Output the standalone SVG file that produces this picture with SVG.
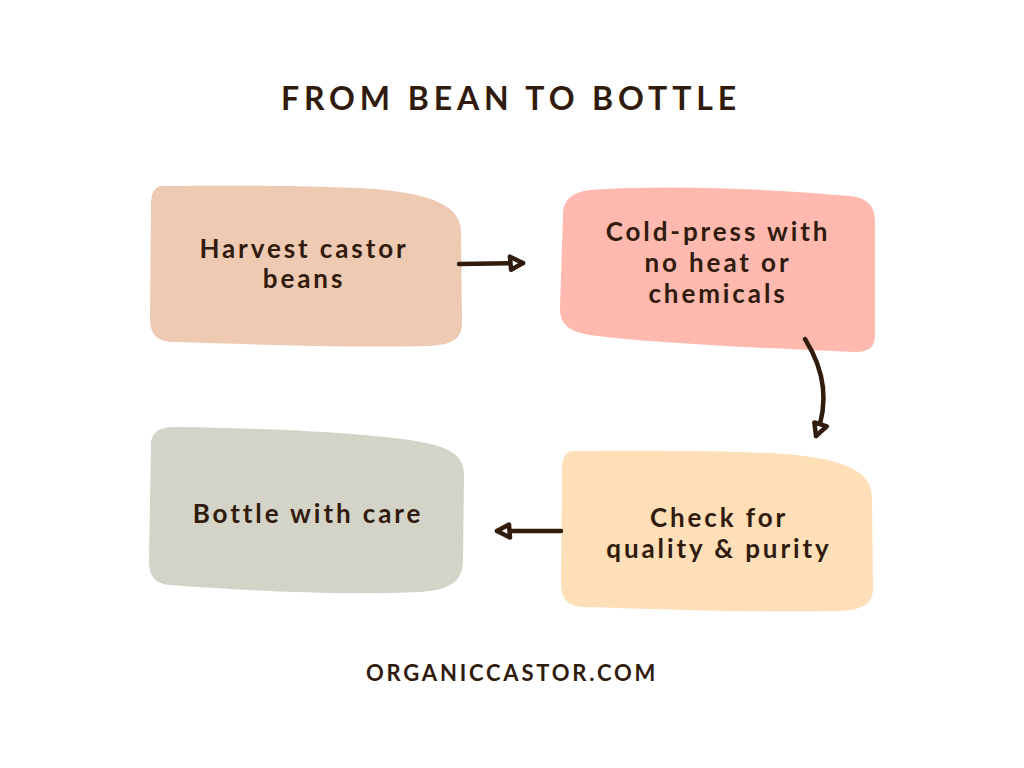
<svg xmlns="http://www.w3.org/2000/svg" width="1024" height="768" viewBox="0 0 1024 768">
<defs>
<style>
.t{font-family:Lato,"Liberation Sans",sans-serif;font-weight:700;fill:#301b0d;text-anchor:middle}
.lbl{font-size:26px;letter-spacing:2.9px}
.title{font-size:32px;letter-spacing:4.9px}
.foot{font-size:22px;letter-spacing:2.8px}
.conn{fill:none;stroke:#301b0d;stroke-width:4.5;stroke-linecap:round;stroke-linejoin:round}
</style>
<marker id="ah" markerUnits="userSpaceOnUse" viewBox="-18 -10 22 20" refX="0" refY="0" markerWidth="22" markerHeight="20" orient="auto" overflow="visible">
<path d="M0,0 L-13,-6.5 L-12,6.5 Z" fill="#fff" stroke="#301b0d" stroke-width="4.5" stroke-linejoin="round"/>
</marker>
</defs>
<rect width="1024" height="768" fill="#fff"/>
<text class="t title" x="511" y="110">FROM BEAN TO BOTTLE</text>
<g id="node-harvest">
<path d="M162,186 C250,185 330,186 375,189 C430,194 461,205 461,232 L462,322 C462,338 455,344 430,346 C340,348 250,344 172,342 C156,341 150,333 150,318 L151,206 C151,193 154,187 162,186 Z" fill="#efcab3"/>
<text class="t lbl" x="304" y="258">Harvest castor</text>
<text class="t lbl" x="304" y="288">beans</text>
</g>
<g id="node-coldpress">
<path d="M590,190 C680,184 780,190 850,196 C868,198 875,206 875,222 L875,335 C875,348 868,352 855,352 C760,348 650,343 590,335 C566,331 560,322 560,308 L563,215 C563,200 572,192 590,190 Z" fill="#ffb9ae"/>
<text class="t lbl" x="718" y="241">Cold-press with</text>
<text class="t lbl" x="718" y="272">no heat or</text>
<text class="t lbl" x="718" y="303">chemicals</text>
</g>
<g id="node-check">
<path d="M573,451 C661,450 741,451 786,454 C841,459 872,470 872,497 L873,587 C873,603 866,609 841,611 C751,613 661,609 583,607 C567,606 561,598 561,583 L562,471 C562,458 565,452 573,451 Z" fill="#fedfb7"/>
<text class="t lbl" x="719" y="527">Check for</text>
<text class="t lbl" x="719" y="558">quality &amp; purity</text>
</g>
<g id="node-bottle">
<path d="M175,427 C260,428 350,432 410,440 C450,446 464,455 464,475 L463,560 C463,580 452,590 420,592 C330,596 240,590 170,585 C154,584 149,575 149,560 L151,445 C151,432 160,427 175,427 Z" fill="#d3d3c8"/>
<text class="t lbl" x="308" y="523">Bottle with care</text>
</g>
<g id="connectors">
<path class="conn" d="M459,264 L523,263" marker-end="url(#ah)"/>
<path class="conn" d="M805,339 C822,366 831,398 816,436" marker-end="url(#ah)"/>
<path class="conn" d="M561,531 L497,531" marker-end="url(#ah)"/>
</g>
<text class="t foot" x="512" y="681">ORGANICCASTOR.COM</text>
</svg>
